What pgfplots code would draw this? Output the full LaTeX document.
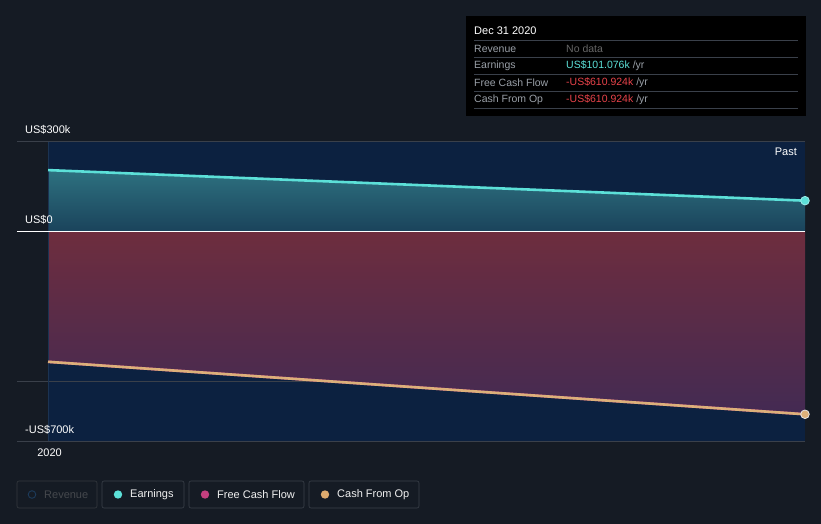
\documentclass[border=0pt]{standalone}
\usepackage{pgfplots}
\pgfplotsset{compat=1.18}
\usepackage{fontspec}
\setmainfont{Liberation Sans}
\definecolor{bg}{HTML}{151B24}
\definecolor{past}{HTML}{0C2140}
\definecolor{grid}{HTML}{3A404A}
\definecolor{earn}{HTML}{5CE0D8}
\definecolor{cfo}{HTML}{DCB07A}
\definecolor{fcf}{HTML}{C4407F}
\definecolor{negred}{HTML}{E8434A}
\definecolor{lgray}{HTML}{9AA0A8}
\definecolor{vline}{HTML}{1B3352}
\definecolor{revc}{HTML}{1C3A5A}
\begin{document}
\begin{tikzpicture}[x=1pt,y=1pt]
\fill[bg] (0,0) rectangle (821,-524);
\begin{axis}[
  at={(17pt,-441pt)}, anchor=south west,
  scale only axis, width=788pt, height=300pt,
  xmin=2019.959, xmax=2021.0, ymin=-700, ymax=300,
  axis line style={draw=none},
  axis background/.style={fill=bg},
  xtick={2020}, xticklabels={2020},
  ytick=\empty,
  tick style={grid, line width=0.6pt},
  major tick length=4pt,
  x tick label style={font=\fontsize{11}{13}\selectfont, text=white, yshift=-4pt, xshift=1.5pt},
  xtick pos=bottom,
  clip=false,
]
\fill[past] (axis cs:2020,-700) rectangle (axis cs:2021,300);
\draw[grid, line width=0.5pt] (axis cs:2019.959,-500) -- (axis cs:2021,-500);
% earnings area
\addplot[draw=none, top color=earn!42!past, bottom color=earn!18!past] coordinates {(2020,203) (2021,101.076)} \closedcycle;
% negative cash area
\addplot[draw=none, top color=negred!50!past!90!black, bottom color=fcf!30!past] coordinates {(2020,-436) (2021,-610.924)} \closedcycle;
\draw[vline, line width=0.6pt] (axis cs:2020,-700) -- (axis cs:2020,300);
\draw[grid, line width=0.8pt] (axis cs:2019.959,300) -- (axis cs:2021,300);
\draw[grid, line width=0.8pt] (axis cs:2019.959,-700) -- (axis cs:2021,-700);
\draw[white, line width=0.8pt] (axis cs:2019.959,0) -- (axis cs:2021,0);
% lines
\addplot[fcf, line width=2.6pt] coordinates {(2020,-436) (2021,-610.924)};
\addplot[cfo, line width=2.6pt] coordinates {(2020,-436) (2021,-610.924)};
\addplot[earn, line width=2.6pt] coordinates {(2020,203) (2021,101.076)};
\addplot[only marks, mark=*, mark size=4.3pt, mark options={fill=earn, draw=earn!60!white, line width=0.8pt}] coordinates {(2021,101.076)};
\addplot[only marks, mark=*, mark size=4.3pt, mark options={fill=cfo, draw=white!80!gray, line width=0.8pt}] coordinates {(2021,-610.924)};
% y labels
\node[anchor=south west, text=white, font=\fontsize{11}{13}\selectfont, inner sep=0pt] at (axis cs:2019.959,300) [xshift=8pt, yshift=7pt] {US\$300k};
\node[anchor=south west, text=white, font=\fontsize{11}{13}\selectfont, inner sep=0pt] at (axis cs:2019.959,0) [xshift=8pt, yshift=7pt] {US\$0};
\node[anchor=south west, text=white, font=\fontsize{11}{13}\selectfont, inner sep=0pt] at (axis cs:2019.959,-700) [xshift=8pt, yshift=7pt] {-US\$700k};
\node[anchor=north east, text=white, font=\fontsize{11}{13}\selectfont, inner sep=0pt] at (axis cs:2021,300) [xshift=-8pt, yshift=-7pt] {Past};
\end{axis}
% tooltip
\fill[black] (466,-16) rectangle (806,-116);
\node[anchor=west, text=white, font=\fontsize{11}{13}\selectfont, inner sep=0pt] at (474,-31) {Dec 31 2020};
\foreach \yy in {40,57,74,91,108} {\draw[grid, line width=0.6pt] (474,-\yy) -- (798,-\yy);}
\begin{scope}[every node/.style={anchor=west, inner sep=0pt, font=\fontsize{10.5}{12}\selectfont}]
\node[text=lgray] at (474,-48.5) {Revenue};
\node[text=gray!80!black] at (566,-48.5) {No data};
\node[text=lgray] at (474,-65.5) {Earnings};
\node at (566,-65.5) {\textcolor{earn}{US\$101.076k} \textcolor{lgray}{/yr}};
\node[text=lgray] at (474,-82.5) {Free Cash Flow};
\node at (566,-82.5) {\textcolor{negred}{-US\$610.924k} \textcolor{lgray}{/yr}};
\node[text=lgray] at (474,-99.5) {Cash From Op};
\node at (566,-99.5) {\textcolor{negred}{-US\$610.924k} \textcolor{lgray}{/yr}};
\end{scope}
% legend
\begin{scope}[every node/.style={anchor=west, inner sep=0pt, font=\fontsize{11}{13}\selectfont}]
\draw[rounded corners=2pt, draw=gray!30!bg, line width=0.6pt] (17,-481) rectangle (97,-508);
\draw[draw=revc, line width=0.9pt] (32,-494.5) circle (3.8);
\node[text=gray!45!bg] at (44,-494.5) {Revenue};
\draw[rounded corners=2pt, draw=grid, line width=0.6pt] (102,-481) rectangle (184,-508);
\fill[earn] (118,-494.5) circle (4.2);
\node[text=white!88!gray] at (130,-494.5) {Earnings};
\draw[rounded corners=2pt, draw=grid, line width=0.6pt] (189,-481) rectangle (304,-508);
\fill[fcf] (205,-494.5) circle (4.2);
\node[text=white!88!gray] at (217,-494.5) {Free Cash Flow};
\draw[rounded corners=2pt, draw=grid, line width=0.6pt] (309,-481) rectangle (419,-508);
\fill[cfo!90!orange] (325,-494.5) circle (4.2);
\node[text=white!88!gray] at (337,-494.5) {Cash From Op};
\end{scope}
\end{tikzpicture}
\end{document}
